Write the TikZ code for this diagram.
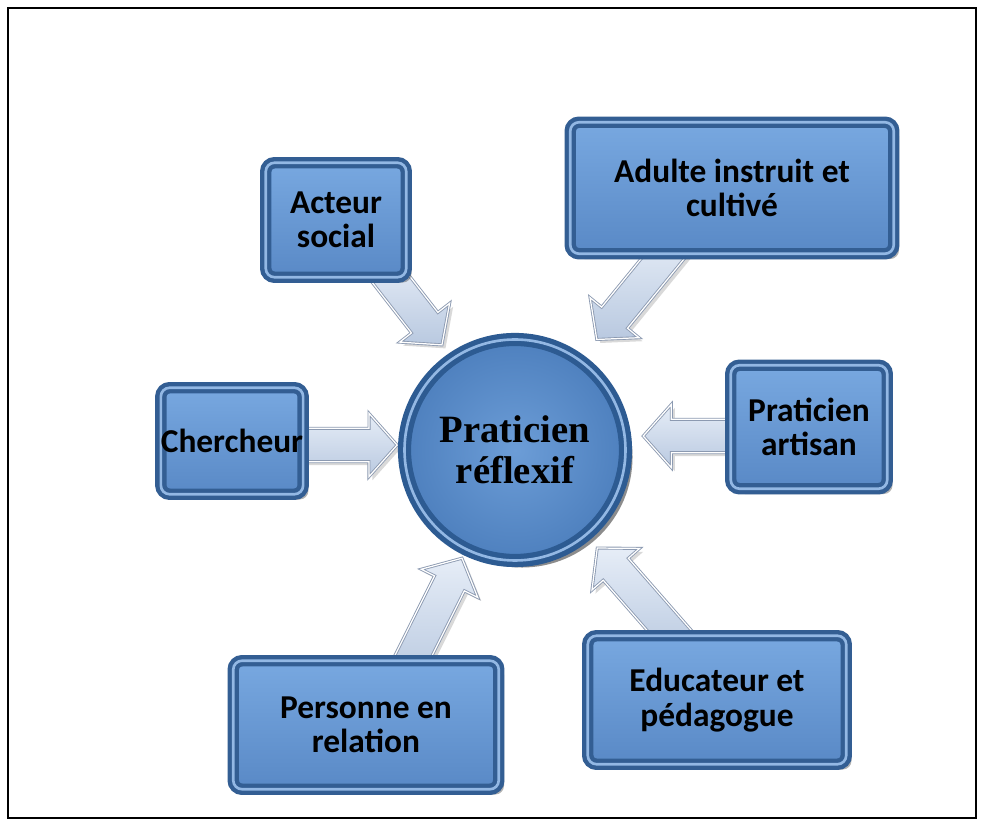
\documentclass[tikz,border=0pt]{standalone}
\usepackage{fontspec}
\setmainfont{Carlito}
\newfontfamily\serifgras{Liberation Serif}
\usetikzlibrary{calc,shadows,backgrounds}

\definecolor{bleubord}{HTML}{335E93}
\definecolor{bleuclair}{HTML}{93B8E4}
\definecolor{faceh}{HTML}{78A8E0}
\definecolor{faceb}{HTML}{5989C6}
\definecolor{bleufonce}{HTML}{2D5B92}
\definecolor{rondin}{HTML}{6C9DD7}
\definecolor{rondout}{HTML}{4E80BE}
\definecolor{flecheh}{HTML}{E6EDF7}
\definecolor{flecheb}{HTML}{B9C9E0}
\definecolor{flechebord}{HTML}{8C9AB1}

\tikzset{
  boite/.style={rectangle, rounded corners=5pt, draw=bleubord, double=bleuclair,
    double distance=1.5pt, line width=2.5pt, top color=faceh, bottom color=faceb,
    drop shadow={shadow xshift=3pt, shadow yshift=-3pt, fill=black, opacity=0.3},
    align=center, inner sep=0pt, font=\bfseries\fontsize{19}{19.5}\selectfont},
  rond/.style={circle, draw=bleufonce, double=bleuclair, double distance=1.5pt,
    line width=3pt, inner color=rondin, outer color=rondout,
    drop shadow={shadow xshift=4pt, shadow yshift=-4pt, fill=black, opacity=0.45},
    minimum size=4.42cm, align=center, inner sep=0pt,
    font=\serifgras\bfseries\fontsize{22}{23.5}\selectfont},
  flecheblanche/.style={draw=flechebord, double=white, double distance=0.7pt,
    line width=0.5pt, line join=miter, top color=flecheh, bottom color=flecheb,
    drop shadow={shadow xshift=2pt, shadow yshift=-2pt, fill=black, opacity=0.15}}
}

% 箭头: #1 起点, #2 箭头尖
\newcommand{\fleche}[2]{%
  \coordinate (fdebut) at (#1);
  \coordinate (fpointe) at (#2);
  \coordinate (fa) at ($(fdebut)!-10pt!(fpointe)$);
  \coordinate (fc) at ($(fpointe)!16pt!(fdebut)$);
  \path[flecheblanche] ($(fa)!9.5pt!90:(fpointe)$) -- ($(fc)!9.5pt!90:(fpointe)$)
    -- ($(fc)!18pt!90:(fpointe)$) -- (fpointe) -- ($(fc)!18pt!-90:(fpointe)$)
    -- ($(fc)!9.5pt!-90:(fpointe)$) -- ($(fa)!9.5pt!-90:(fpointe)$) -- cycle;}

\begin{document}
\begin{tikzpicture}
        \useasboundingbox (0, 0) rectangle (19.62, 16.46);
        % 中心圆
        \node[rond] (centre) at (10.30, 7.46) {Praticien\\réflexif};
        % 六个方框
        \node[boite, minimum width=2.81cm, minimum height=2.29cm] (acteur) at (6.72, 12.06) {Acteur\\social};
        \node[boite, minimum width=6.47cm, minimum height=2.63cm] (adulte) at (14.64, 12.70) {Adulte instruit et\\cultivé};
        \node[boite, minimum width=2.79cm, minimum height=2.13cm] (chercheur) at (4.64, 7.64) {Chercheur};
        \node[boite, minimum width=3.13cm, minimum height=2.47cm] (artisan) at (16.18, 7.92) {Praticien\\artisan};
        \node[boite, minimum width=5.31cm, minimum height=2.57cm] (personne) at (7.32, 1.96) {Personne en\\relation};
        \node[boite, minimum width=5.17cm, minimum height=2.57cm] (educateur) at (14.34, 2.46) {Educateur et\\pédagogue};
        \begin{scope}[on background layer]
          % 边框
          \fill[white] (0, 0) rectangle (19.62, 16.46);
          \draw[line width=1pt] (0.16, 0.1) rectangle (19.52, 16.3);
          % 六个箭头
          \fleche{$(acteur.south)+(1.1, 0)$}{$(centre)+(124.8:2.56)$}
          \fleche{$(adulte.south)+(-1.34, 0)$}{$(centre)+(53.5:2.75)$}
          \fleche{$(chercheur.east)+(0, -0.08)$}{$(centre)+(177.6:2.36)$}
          \fleche{$(artisan.west)+(0, -0.18)$}{$(centre)+(6.2:2.58)$}
          \fleche{$(personne.north)+(0.92, 0)$}{$(centre)+(243.9:2.41)$}
          \fleche{$(educateur.north)+(-0.9, 0)$}{$(centre)+(310:2.56)$}
        \end{scope}
      \end{tikzpicture}
\end{document}
